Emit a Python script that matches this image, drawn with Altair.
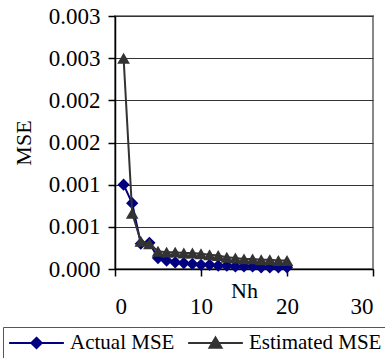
import altair as alt
import pandas as pd

nh = list(range(1, 21))
actual = [0.00100, 0.00078, 0.00030, 0.00031, 0.00013, 0.00010, 0.00008, 0.00007,
          0.00006, 0.00005, 0.00005, 0.00004, 0.00004, 0.00003, 0.00003, 0.00003,
          0.00002, 0.00002, 0.00002, 0.00002]
estimated = [0.00250, 0.00066, 0.00033, 0.00030, 0.00021, 0.00020, 0.00020, 0.00019,
             0.00019, 0.00018, 0.00017, 0.00016, 0.00014, 0.00013, 0.00012, 0.00012,
             0.00011, 0.00011, 0.00010, 0.00010]
series_names = ["Actual MSE", "Estimated MSE"]
series_colors = ["#000080", "#333333"]
x_ticks = [0, 10, 20, 30]
y_ticks = [0, 0.0005, 0.001, 0.0015, 0.002, 0.0025, 0.003]

df = pd.DataFrame({
    "Nh": nh * 2,
    "MSE": actual + estimated,
    "series": [series_names[0]] * len(nh) + [series_names[1]] * len(nh),
})

FONT = "Liberation Serif"

x_enc = alt.X("Nh:Q", scale=alt.Scale(domain=[0, 30], nice=False),
              axis=alt.Axis(values=x_ticks, title="Nh", grid=False, tickSize=7,
                            labelPadding=19, titleY=28, titleBaseline="alphabetic",
                            titleFontWeight="normal"))
y_enc = alt.Y("MSE:Q", scale=alt.Scale(domain=[0, 0.003], nice=False),
              axis=alt.Axis(values=y_ticks, format=".3f", title="MSE", grid=True,
                            tickSize=7, labelPadding=8, titleX=-92, titleY=126.5,
                            titleAngle=-90, titleAlign="center", titleBaseline="middle",
                            titleFontWeight="normal"))

base = alt.Chart(df).encode(x=x_enc, y=y_enc)

act_line = base.transform_filter(alt.datum.series == series_names[0]).mark_line(
    color=series_colors[0], strokeWidth=2)
act_pts = base.transform_filter(alt.datum.series == series_names[0]).mark_point(
    shape="diamond", filled=True, color=series_colors[0], size=150, opacity=1)
est_line = base.transform_filter(alt.datum.series == series_names[1]).mark_line(
    color=series_colors[1], strokeWidth=2)
est_pts = base.transform_filter(alt.datum.series == series_names[1]).mark_point(
    shape="triangle-up", filled=True, color=series_colors[1], size=160, opacity=1)

diamond_path = "M-1,0L1,0M0,-0.19L0.19,0L0,0.19L-0.19,0Z"
triangle_path = "M-1,0L1,0M0,-0.2L0.22,0.17L-0.22,0.17Z"

legend_def = alt.Legend(title=None, orient="none", legendX=-112, legendY=311,
                        direction="horizontal", symbolSize=3000, symbolStrokeWidth=2,
                        clipHeight=22, labelFont=FONT, labelFontSize=21,
                        labelColor="black", strokeColor="#555555", padding=5,
                        columnPadding=12, labelOffset=5, symbolOpacity=1)

legend_layer = base.transform_filter("false").mark_point(filled=True, opacity=1).encode(
    fill=alt.Fill("series:N", scale=alt.Scale(domain=series_names, range=series_colors),
                  legend=legend_def),
    stroke=alt.Stroke("series:N", scale=alt.Scale(domain=series_names, range=series_colors),
                      legend=legend_def),
    shape=alt.Shape("series:N", scale=alt.Scale(domain=series_names,
                                                range=[diamond_path, triangle_path]),
                    legend=legend_def),
)

chart = alt.layer(act_line, act_pts, est_line, est_pts, legend_layer).properties(
    width=258, height=253,
    autosize=alt.AutoSizeParams(type="none"),
    padding={"left": 115, "top": 16, "right": 12, "bottom": 89},
    background="white",
).configure_view(
    stroke="#888888", strokeWidth=2
).configure_axis(
    labelFont=FONT, titleFont=FONT, labelFontSize=23, titleFontSize=22,
    labelColor="black", titleColor="black", domainColor="black", tickColor="black",
    gridColor="#333333", gridWidth=1, domainWidth=1.5, tickWidth=1.5,
)

chart.save("out.html", embed_options={"renderer": "svg", "actions": False})
